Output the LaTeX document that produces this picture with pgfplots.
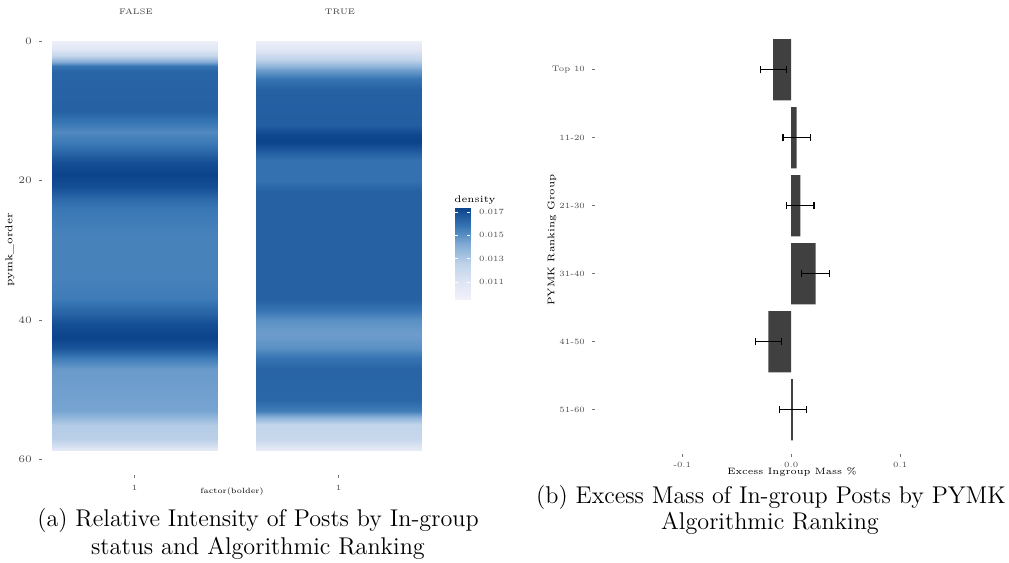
\documentclass[border=0pt]{standalone}
\usepackage{pgfplots}
\pgfplotsset{compat=1.18}
\usepackage{pgfplotstable}
\newcommand\tk{\fontsize{4}{5}\selectfont}
\pgfplotsset{
  colormap={hm}{rgb255=(242,242,250) rgb255=(222,229,244) rgb255=(190,210,233) rgb255=(130,172,214) rgb255=(55,118,180) rgb255=(12,68,140)},
  heat/.style={
    anchor=south west, scale only axis, width=92.5pt, height=227.5pt,
    xmin=-0.0606, xmax=1.0606, ymin=-3, ymax=62.2, y dir=reverse,
    axis line style={draw=none}, tick pos=left, tick align=outside,
    major tick length=1.5pt, tick style={black!55, line width=0.4pt},
    ticklabel style={font=\tk, text=black!70},
    xtick={0.5}, xticklabels={1},
    colormap name=hm, point meta min=0.0095, point meta max=0.0173,
  }
}
% density bands (pymk_order, density)
\pgfplotstableread{
x y c
0 0 0.0099
1 0 0.0099
0 1 0.0107
1 1 0.0107
0 2 0.0122
1 2 0.0122
0 3 0.0142
1 3 0.0142
0 3.6 0.0158
1 3.6 0.0158
0 4.5 0.0163
1 4.5 0.0163
0 10 0.0164
1 10 0.0164
0 11.5 0.0158
1 11.5 0.0158
0 13 0.0152
1 13 0.0152
0 14.8 0.0157
1 14.8 0.0157
0 16 0.0163
1 16 0.0163
0 17.5 0.0170
1 17.5 0.0170
0 19 0.0173
1 19 0.0173
0 21 0.0170
1 21 0.0170
0 22.5 0.0162
1 22.5 0.0162
0 24 0.0157
1 24 0.0157
0 28 0.0154
1 28 0.0154
0 34 0.0154
1 34 0.0154
0 37 0.0156
1 37 0.0156
0 39 0.0163
1 39 0.0163
0 40.5 0.0170
1 40.5 0.0170
0 42.5 0.0173
1 42.5 0.0173
0 44 0.0168
1 44 0.0168
0 45.5 0.0156
1 45.5 0.0156
0 47 0.0147
1 47 0.0147
0 51 0.0145
1 51 0.0145
0 53 0.0144
1 53 0.0144
0 54.2 0.0136
1 54.2 0.0136
0 55 0.0129
1 55 0.0129
0 57 0.0127
1 57 0.0127
0 58 0.0116
1 58 0.0116
0 58.7 0.0103
1 58.7 0.0103
}\heatfalse
\pgfplotstableread{
x y c
0 0 0.0099
1 0 0.0099
0 1 0.0107
1 1 0.0107
0 2 0.0118
1 2 0.0118
0 3 0.0130
1 3 0.0130
0 4.2 0.0146
1 4.2 0.0146
0 5.5 0.0158
1 5.5 0.0158
0 7 0.0164
1 7 0.0164
0 12 0.0165
1 12 0.0165
0 13.5 0.0172
1 13.5 0.0172
0 14.5 0.0173
1 14.5 0.0173
0 15.8 0.0166
1 15.8 0.0166
0 17 0.0159
1 17 0.0159
0 20 0.0159
1 20 0.0159
0 21.5 0.0164
1 21.5 0.0164
0 37 0.0164
1 37 0.0164
0 38.5 0.0158
1 38.5 0.0158
0 40 0.0150
1 40 0.0150
0 42 0.0146
1 42 0.0146
0 44 0.0150
1 44 0.0150
0 45.5 0.0158
1 45.5 0.0158
0 47 0.0163
1 47 0.0163
0 51.5 0.0162
1 51.5 0.0162
0 53 0.0155
1 53 0.0155
0 54 0.0138
1 54 0.0138
0 55 0.0124
1 55 0.0124
0 57 0.0122
1 57 0.0122
0 58 0.0112
1 58 0.0112
0 58.7 0.0101
1 58.7 0.0101
}\heattrue
\pgfplotstableread{
i v e
0 -0.0165 0.0120
1 0.0050 0.0125
2 0.0085 0.0125
3 0.0225 0.0130
4 -0.0210 0.0120
5 0.0015 0.0125
}\excess
\begin{document}
\begin{tikzpicture}
\path[use as bounding box] (0,0) rectangle (504.5pt,281.5pt);
% ---- heatmap FALSE
\begin{axis}[heat, at={(21pt,44pt)}, ytick={0,20,40,60}]
\addplot[surf, shader=interp, mesh/cols=2, point meta=\thisrow{c}] table[x=x,y=y] {\heatfalse};
\end{axis}
% ---- heatmap TRUE
\begin{axis}[heat, at={(123pt,44pt)}, ytick=\empty]
\addplot[surf, shader=interp, mesh/cols=2, point meta=\thisrow{c}] table[x=x,y=y] {\heattrue};
\end{axis}
% ---- colour bar
\begin{axis}[at={(227.5pt,131.5pt)}, anchor=south west, scale only axis,
  width=7.5pt, height=46pt, xmin=0, xmax=1, ymin=0.00946, ymax=0.01734,
  axis line style={draw=none}, xtick=\empty, scaled y ticks=false,
  ytick={0.011,0.013,0.015,0.017}, yticklabels={0.011,0.013,0.015,0.017},
  ytick pos=both, yticklabel pos=right, tick align=inside, major tick length=1.5pt,
  tick style={white, line width=0.4pt}, axis on top,
  yticklabel style={font=\tk, text=black!70, xshift=1pt},
  colormap name=hm, point meta min=0.0095, point meta max=0.0173]
\addplot[surf, shader=interp, mesh/cols=2, point meta=\thisrow{c}] table[x=x,y=y] {
x y c
0 0.00946 0.00946
1 0.00946 0.00946
0 0.01734 0.01734
1 0.01734 0.01734
};
\end{axis}
\node[anchor=south west, inner sep=0pt, font=\fontsize{4.8}{5}\selectfont] at (227pt,179pt) {density};
\node[font=\tk, text=black!75] at (68pt,275.5pt) {FALSE};
\node[font=\tk, text=black!75] at (170pt,275.5pt) {TRUE};
\node[font=\fontsize{5}{6}\selectfont, rotate=90] at (5pt,156.5pt) {pymk\_order};
\node[font=\fontsize{3.8}{5}\selectfont] at (116pt,35.5pt) {factor(bolder)};
% ---- excess mass bars
\begin{axis}[at={(297.5pt,54.5pt)}, anchor=south west, scale only axis,
  width=179.85pt, height=210.8pt,
  xmin=-0.18, xmax=0.15, ymin=-0.55, ymax=5.65, y dir=reverse,
  axis line style={draw=none}, scaled x ticks=false,
  xtick={-0.1,0,0.1}, xticklabels={-0.1,0.0,0.1},
  ytick={0,1,2,3,4,5}, yticklabels={Top 10,11-20,21-30,31-40,41-50,51-60},
  tick pos=left, tick align=outside, major tick length=1.5pt,
  tick style={black!55, line width=0.4pt},
  ticklabel style={font=\tk, text=black!70},
  xticklabel style={yshift=1pt},
  xbar, bar width=0.9]
\addplot[fill=black!75, draw=none,
  error bars/.cd, x dir=both, x explicit, error mark=|,
  error bar style={black, line width=0.6pt},
  error mark options={black, mark size=1.75pt, line width=0.6pt}]
  table[x=v, y=i, x error=e] {\excess};
\end{axis}
\node[font=\fontsize{4.6}{6}\selectfont] at (396pt,45.5pt) {Excess Ingroup Mass \%};
\node[font=\fontsize{4.8}{6}\selectfont, rotate=90] at (276pt,161.5pt) {PYMK Ranking Group};
% ---- captions
\node[anchor=base, font=\fontsize{12.1}{13}\selectfont] at (129pt,18pt) {(a) Relative Intensity of Posts by In-group};
\node[anchor=base, font=\fontsize{12.1}{13}\selectfont] at (129pt,4pt) {status and Algorithmic Ranking};
\node[anchor=base, font=\fontsize{12.1}{13}\selectfont] at (385.5pt,29.5pt) {(b) Excess Mass of In-group Posts by PYMK};
\node[anchor=base, font=\fontsize{12.1}{13}\selectfont] at (385pt,16.5pt) {Algorithmic Ranking};
\end{tikzpicture}
\end{document}
